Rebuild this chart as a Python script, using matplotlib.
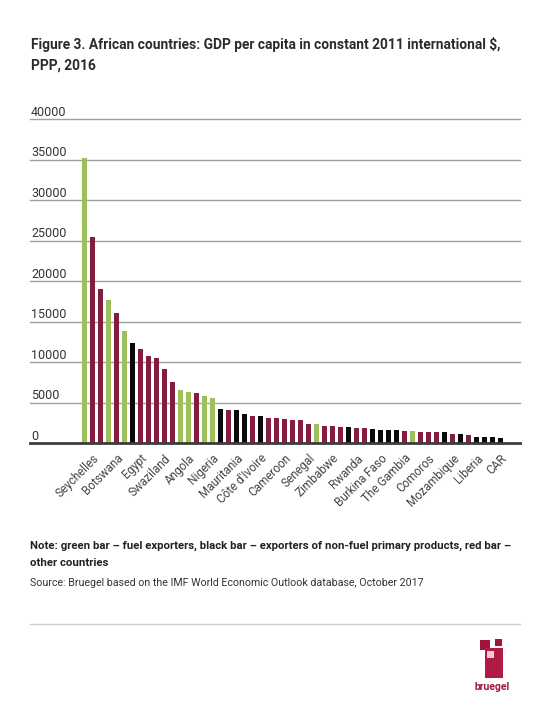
import matplotlib
matplotlib.use("Agg")
import matplotlib.pyplot as plt
from matplotlib import font_manager, transforms
from matplotlib.patches import Rectangle

# GDP per capita (constant 2011 intl $, PPP), 2016
values = [35200, 25400, 19000, 17700, 16100, 13900, 12400, 11700, 10800, 10500,
          9150, 7600, 6600, 6350, 6250, 5900, 5650, 4270, 4130, 4130,
          3670, 3420, 3420, 3170, 3170, 3050, 2930, 2930, 2430, 2350,
          2200, 2200, 2070, 2070, 1950, 1950, 1820, 1700, 1700, 1700,
          1580, 1580, 1450, 1450, 1450, 1450, 1210, 1210, 1080, 840,
          840, 840, 710]
# g = fuel exporters, k = non-fuel primary products exporters, r = other countries
groups = ['g', 'r', 'r', 'g', 'r', 'g', 'k', 'r', 'r', 'r',
          'r', 'r', 'g', 'g', 'r', 'g', 'g', 'k', 'r', 'k',
          'k', 'r', 'k', 'r', 'r', 'r', 'r', 'r', 'r', 'g',
          'r', 'r', 'r', 'k', 'r', 'r', 'k', 'k', 'k', 'k',
          'r', 'g', 'r', 'r', 'r', 'k', 'r', 'k', 'r', 'k',
          'k', 'k', 'k']
tick_labels = ['Seychelles', 'Botswana', 'Egypt', 'Swaziland', 'Angola', 'Nigeria',
               'Mauritania', "Côte d'Ivoire", 'Cameroon', 'Senegal', 'Zimbabwe', 'Rwanda',
               'Burkina Faso', 'The Gambia', 'Comoros', 'Mozambique', 'Liberia', 'CAR']
y_ticks = [0, 5000, 10000, 15000, 20000, 25000, 30000, 35000, 40000]

colours = {'g': '#9dbf5a', 'r': '#841d3d', 'k': '#0a0a0a'}

installed = {f.name for f in font_manager.fontManager.ttflist}
narrow = 'Liberation Sans Narrow' if 'Liberation Sans Narrow' in installed else 'Roboto'
plt.rcParams['font.family'] = ['Roboto', 'DejaVu Sans']

W, H = 550, 708


def fx(px):
    return px / W


def fy(py):
    return 1 - py / H


fig = plt.figure(figsize=(W / 100, H / 100), dpi=100)
fig.patch.set_facecolor('white')

ax = fig.add_axes([fx(30), fy(443.5), 490 / W, 324.5 / H])
x = list(range(len(values)))
ax.bar(x, values, width=0.6, color=[colours[g] for g in groups], zorder=3)
ax.set_xlim(-6.79, 54.46)
ax.set_ylim(0, 40000)

for s in ['top', 'right', 'left']:
    ax.spines[s].set_visible(False)
ax.spines['bottom'].set_color('#3c3c3c')
ax.spines['bottom'].set_linewidth(2)
ax.spines['bottom'].set_zorder(4)

ax.set_yticks([])
lab_tr = transforms.offset_copy(ax.get_yaxis_transform(), fig=fig, x=1, y=3.5, units='dots')
for t in y_ticks:
    if t > 0:
        ax.axhline(t, color='#a0a0a0', lw=1, zorder=1, clip_on=False)
    ax.text(0, t, str(t), transform=lab_tr, ha='left', va='baseline',
            fontsize=9, color='#333333', clip_on=False)

ax.set_xticks(range(1, len(values), 3))
ax.set_xticklabels(tick_labels, rotation=45, ha='right', rotation_mode='anchor',
                   fontsize=8.5, color='#444444')
ax.tick_params(axis='x', length=0, pad=6)

# titles and notes
title1 = fig.text(fx(31), fy(49.3), 'Figure 3. African countries: GDP per capita in constant 2011 international $,',
                  family=narrow, fontweight='bold', color='#2b2b2b', fontsize=13, va='baseline')
title2 = fig.text(fx(31), fy(70), 'PPP, 2016',
                  family=narrow, fontweight='bold', color='#2b2b2b', fontsize=13, va='baseline')
note1 = fig.text(fx(30), fy(548.3),
                 'Note: green bar \u2013 fuel exporters, black bar \u2013 exporters of non-fuel primary products, red bar \u2013',
                 family=narrow, fontweight='bold', color='#222222', fontsize=9, va='baseline')
note2 = fig.text(fx(30), fy(566.5), 'other countries',
                 family=narrow, fontweight='bold', color='#222222', fontsize=9, va='baseline')
source = fig.text(fx(30), fy(585.7), 'Source: Bruegel based on the IMF World Economic Outlook database, October 2017',
                  family=narrow, color='#333333', fontsize=8, va='baseline')

# fit text widths to the reference
fig.canvas.draw()
r = fig.canvas.get_renderer()
for main, target, others in [(title1, 469, [title2]), (note1, 478, [note2]), (source, 393, [])]:
    w = main.get_window_extent(r).width
    size = main.get_fontsize() * target / w
    main.set_fontsize(size)
    for o in others:
        o.set_fontsize(size)

fig.add_artist(plt.Line2D([fx(30), fx(520)], [fy(624), fy(624)], color='#cccccc', lw=1))

# bruegel logo
logo = [(480, 640, 10, 10, '#9e1739'), (495, 639, 7, 7, '#9e1739'),
        (485, 648, 18, 30, '#b01a47'), (487, 651, 7, 7, '#f3c9d6')]
for lx, ly, lw_, lh, c in logo:
    fig.add_artist(Rectangle((fx(lx), fy(ly + lh)), lw_ / W, lh / H, color=c,
                             transform=fig.transFigure, lw=0))
fig.text(fx(492), fy(690), 'bruegel', ha='center', va='baseline', fontsize=7.5,
         fontweight='bold', color='#9e1739')

fig.savefig('out.png', dpi=100, facecolor='white')
